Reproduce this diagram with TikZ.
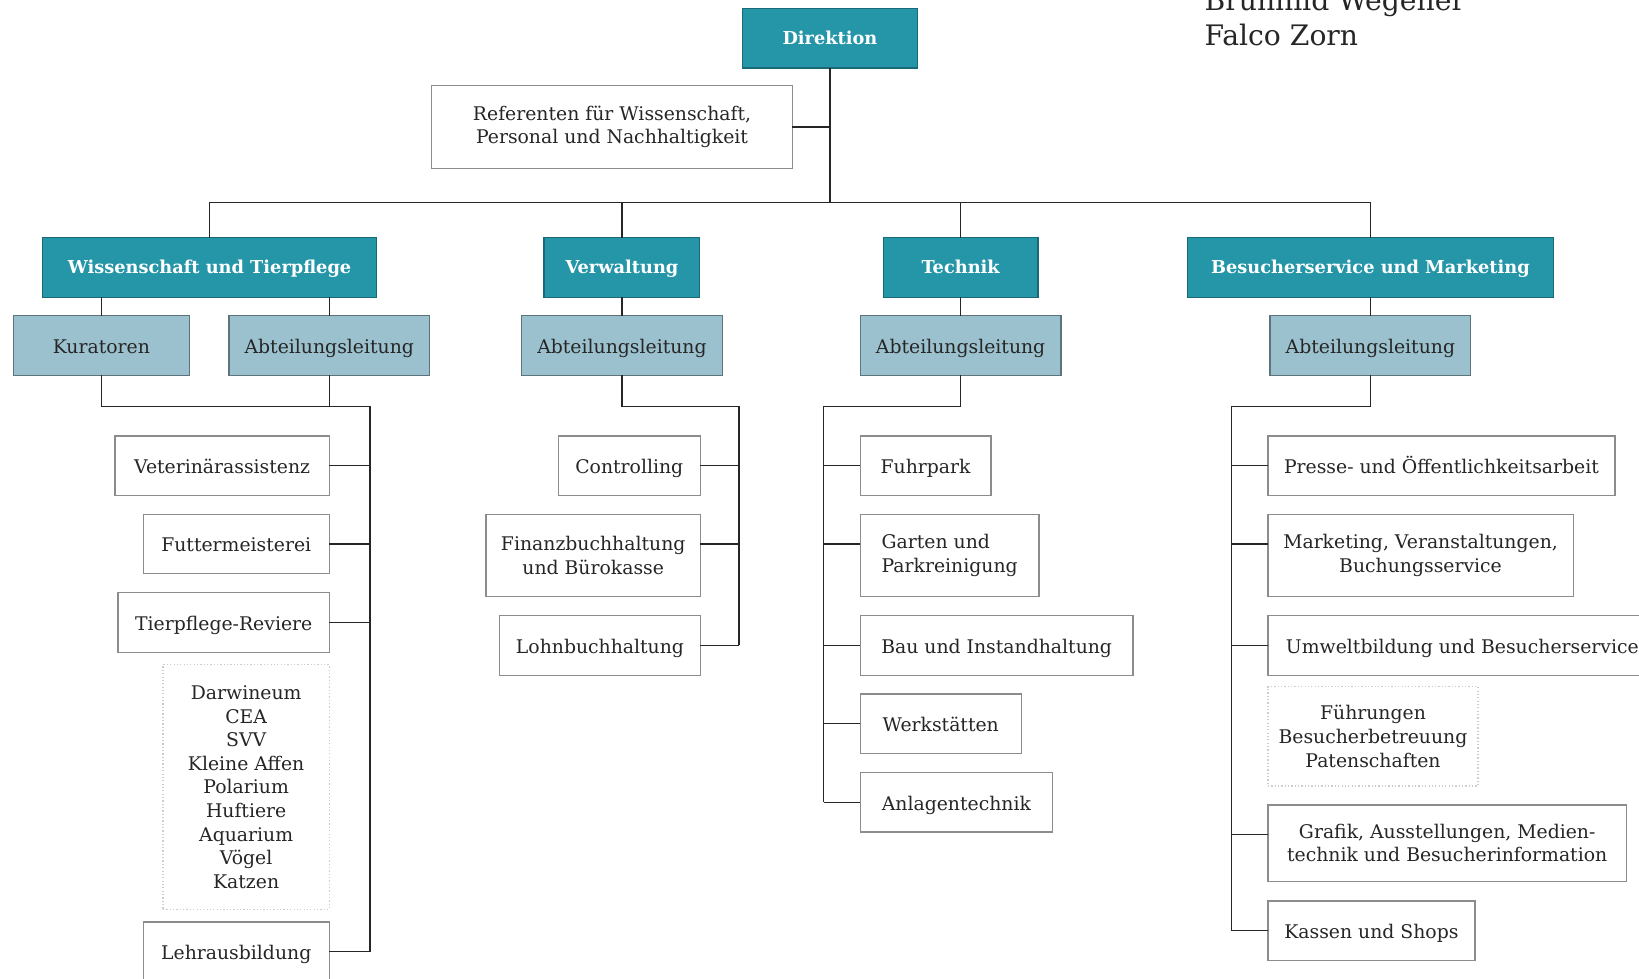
\documentclass[tikz,border=0pt]{standalone}
\usepackage{fontspec}
\setmainfont{DejaVu Serif}
\usetikzlibrary{positioning}

\definecolor{headteal}{HTML}{2596A8}
\definecolor{paleblue}{HTML}{9BC1CE}
\definecolor{boxgray}{HTML}{8C8C8C}
\definecolor{ink}{HTML}{262626}

\tikzset{
  every node/.style={font=\fontsize{9}{11.3}\selectfont, text=ink},
  unitbox/.style={draw=boxgray, line width=0.6pt, fill=white, inner xsep=4pt,
    outer sep=0pt, minimum height=57*0.5pt, text height=7.5pt, text depth=0pt},
  headbox/.style={unitbox, fill=headteal, draw=headteal!70!black, text=white,
    text height=6pt, font=\bfseries\fontsize{8.5}{10}\selectfont},
  leadbox/.style={unitbox, fill=paleblue, draw=paleblue!60!black},
  listbox/.style={unitbox, draw=black!20, densely dotted},
  multi/.style={align=center, text height=, text depth=},
  wd/.style={minimum width=#1*0.5pt},
  ht/.style={minimum height=#1*0.5pt},
  link/.style={draw=ink, line width=0.6pt},
  namefont/.style={inner sep=0pt, font=\fontsize{13.5}{16}\selectfont}
}

\begin{document}
\begin{tikzpicture}[x=0.5pt, y=-0.5pt, node distance=9pt]
\clip (0,0) rectangle (1568,936);

% Leitung
\node[headbox, wd=168] (dir) at (794,36.5) {Direktion};
\node[unitbox, multi, wd=345, ht=79] (ref) at (585.5,121.5)
  {Referenten für Wissenschaft,\\Personal und Nachhaltigkeit};

% Bereiche
\node[headbox, wd=319] (wiss) at (200.5,256) {Wissenschaft und Tierpflege};
\node[headbox, wd=149] (verw) at (595,256) {Verwaltung};
\node[headbox, wd=148] (tech) at (919,256) {Technik};
\node[headbox, wd=350] (besu) at (1311,256) {Besucherservice und Marketing};

\node[leadbox, wd=168] (kur) at (97,330.5) {Kuratoren};
\node[leadbox, wd=192] (wabt) at (315,330.5) {Abteilungsleitung};
\node[leadbox, wd=192] (vabt) at (595,330.5) {Abteilungsleitung};
\node[leadbox, wd=192] (tabt) at (919,330.5) {Abteilungsleitung};
\node[leadbox, wd=192] (babt) at (1311,330.5) {Abteilungsleitung};

% Wissenschaft und Tierpflege
\node[unitbox, wd=205, anchor=north east] (vet) at (315,417) {Veterinärassistenz};
\node[unitbox, wd=178, below=of vet.south east, anchor=north east] (futter) {Futtermeisterei};
\node[unitbox, wd=202, below=of futter.south east, anchor=north east] (revier) {Tierpflege-Reviere};
\node[listbox, multi, wd=159, ht=234, below=6pt of revier.south east, anchor=north east] (reviere)
  {Darwineum\\CEA\\SVV\\Kleine Affen\\Polarium\\Huftiere\\Aquarium\\Vögel\\Katzen};
\node[unitbox, wd=178, below=6pt of reviere.south east, anchor=north east] (lehr) {Lehrausbildung};

% Verwaltung
\node[unitbox, wd=136, anchor=north east] (ctrl) at (670,417) {Controlling};
\node[unitbox, multi, wd=205, ht=79, below=of ctrl.south east, anchor=north east] (fibu)
  {Finanzbuchhaltung\\und Bürokasse};
\node[unitbox, wd=192, below=of fibu.south east, anchor=north east] (lohn) {Lohnbuchhaltung};

% Technik
\node[unitbox, wd=125, anchor=north west] (fuhr) at (823,417) {Fuhrpark};
\node[unitbox, multi, align=left, wd=171, ht=79, below=of fuhr.south west, anchor=north west] (garten)
  {Garten und\\Parkreinigung};
\node[unitbox, wd=261, below=of garten.south west, anchor=north west] (bau) {Bau und Instandhaltung};
\node[unitbox, wd=154, below=of bau.south west, anchor=north west] (werk) {Werkstätten};
\node[unitbox, wd=184, below=of werk.south west, anchor=north west] (anlage) {Anlagentechnik};

% Besucherservice und Marketing
\node[unitbox, wd=332, anchor=north west] (presse) at (1213,417) {Presse- und Öffentlichkeitsarbeit};
\node[unitbox, multi, wd=292, ht=79, below=of presse.south west, anchor=north west] (mark)
  {Marketing, Veranstaltungen,\\Buchungsservice};
\node[unitbox, wd=372, below=of mark.south west, anchor=north west] (umwelt) {Umweltbildung und Besucherservice};
\node[listbox, multi, wd=201, ht=95, below=5.5pt of umwelt.south west, anchor=north west] (fuehr)
  {Führungen\\Besucherbetreuung\\Patenschaften};
\node[unitbox, multi, wd=343, ht=73, below=of fuehr.south west, anchor=north west] (grafik)
  {Grafik, Ausstellungen, Medien-\\technik und Besucherinformation};
\node[unitbox, wd=198, below=9.5pt of grafik.south west, anchor=north west] (kasse) {Kassen und Shops};

% Namen
\node[namefont, anchor=base west] (zorn) at (1152,44) {Falco Zorn};
\node[namefont, anchor=base west] (wegener) at ([yshift=16.75pt]zorn.base west) {Brunhild Wegener};

% Linien
\coordinate (hub) at (794,194);
\draw[link] (dir.south) -- (hub);
\draw[link] (ref.east) -- (ref.east -| hub);
\foreach \n in {wiss,verw,tech,besu}
  \draw[link] (hub) -| (\n.north);
\draw[link] (kur.north) -- (kur.north |- wiss.south);
\draw[link] (wabt.north) -- (wabt.north |- wiss.south);
\foreach \a/\b in {verw/vabt,tech/tabt,besu/babt}
  \draw[link] (\a.south) -- (\b.north);

\coordinate (wrail) at (354,389);
\draw[link] (kur.south) |- (wrail) -- (wrail |- lehr.east);
\draw[link] (wabt.south) -- (wabt.south |- wrail);
\foreach \n in {vet,futter,revier,lehr}
  \draw[link] ([yshift=-14.25pt]\n.north east) coordinate (tap) -- (tap -| wrail);

\coordinate (vrail) at (707,389);
\draw[link] (vabt.south) |- (vrail) -- (vrail |- lohn.east);
\foreach \n in {ctrl,fibu,lohn}
  \draw[link] ([yshift=-14.25pt]\n.north east) coordinate (tap) -- (tap -| vrail);

\coordinate (trail) at (788,389);
\draw[link] (tabt.south) |- (trail) -- (trail |- anlage.west);
\foreach \n in {fuhr,garten,bau,werk,anlage}
  \draw[link] ([yshift=-14.25pt]\n.north west) coordinate (tap) -- (tap -| trail);

\coordinate (brail) at (1178,389);
\draw[link] (babt.south) |- (brail) -- (brail |- kasse.west);
\foreach \n in {presse,mark,umwelt,grafik,kasse}
  \draw[link] ([yshift=-14.25pt]\n.north west) coordinate (tap) -- (tap -| brail);
\end{tikzpicture}
\end{document}
